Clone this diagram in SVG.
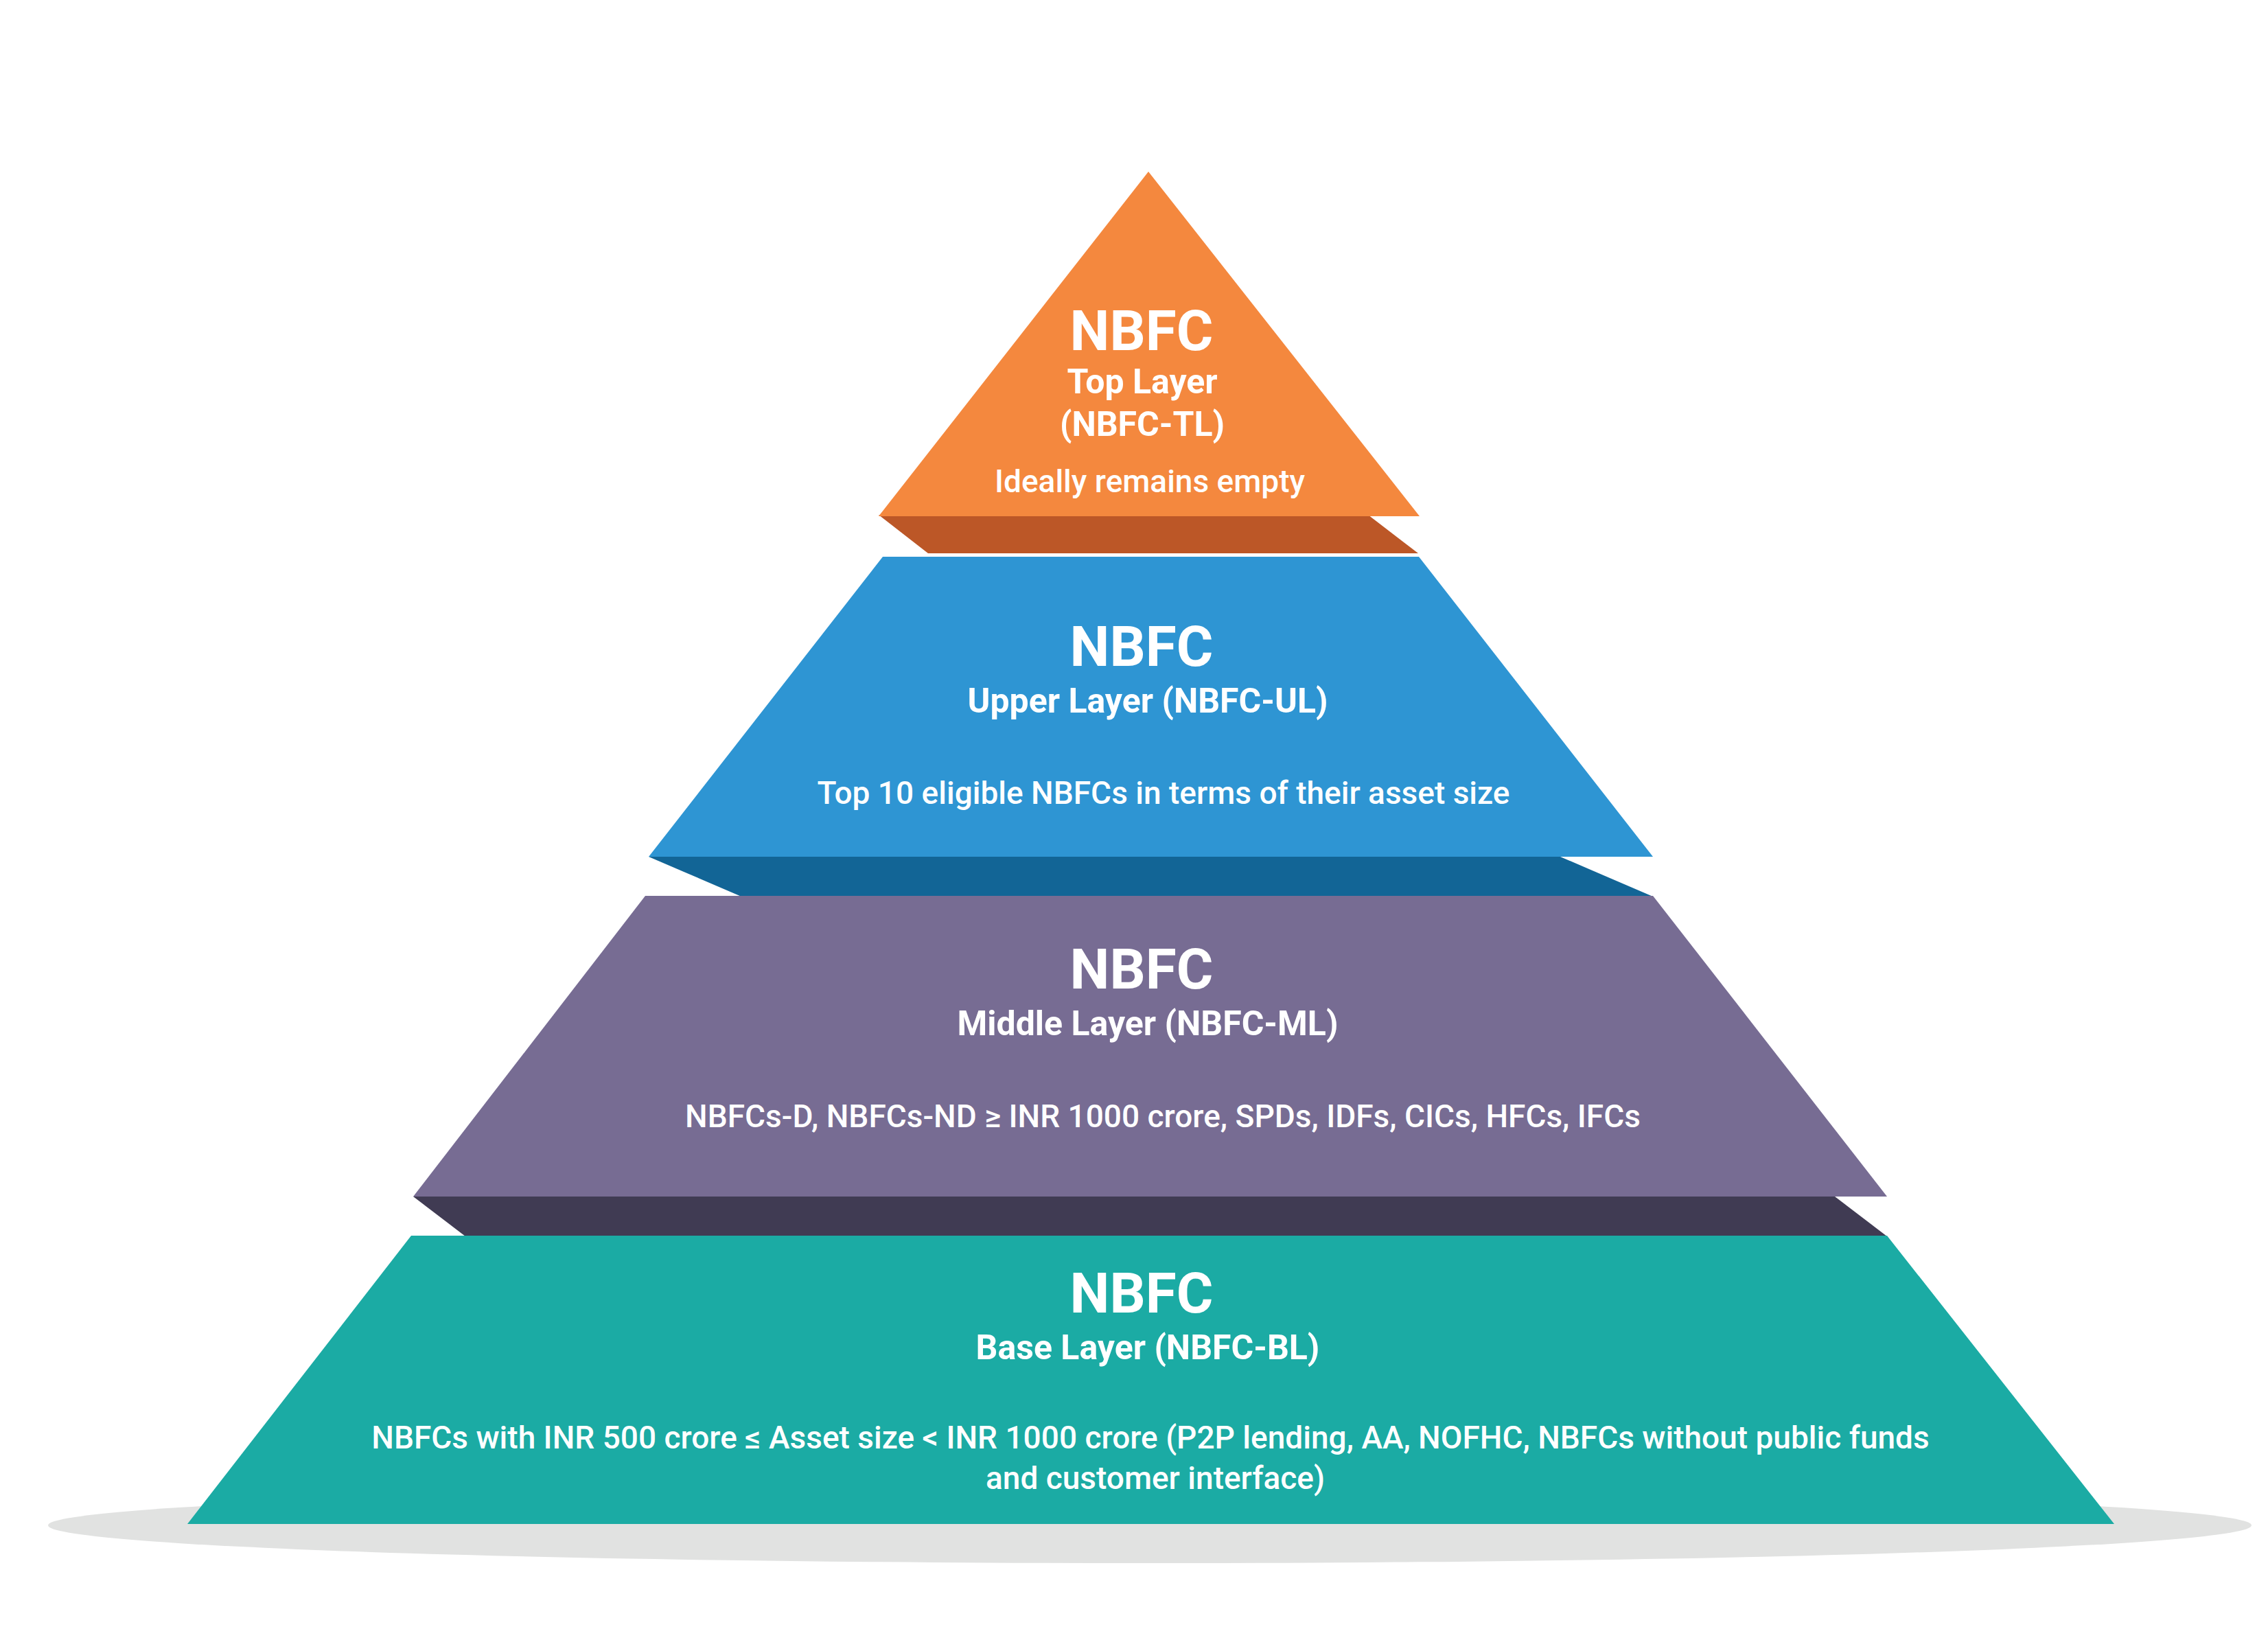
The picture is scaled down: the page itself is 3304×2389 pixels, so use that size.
<svg xmlns="http://www.w3.org/2000/svg" width="3304" height="2389" viewBox="0 0 3304 2389">
<style>
text{font-family:Roboto,"Liberation Sans",sans-serif;fill:#fff;text-anchor:middle}
.h{font-size:82px;font-weight:700}
.s{font-size:50px;font-weight:700}
.d{font-size:46px;font-weight:500}
</style>
<rect width="3304" height="2389" fill="#fff"/>
<ellipse cx="1675" cy="2222" rx="1605" ry="55" fill="#E1E2E1"/>
<g id="shades">
<polygon points="1280,750 1993,750 2066,806 1352,806" fill="#BC5727"/>
<polygon points="945,1248 2273,1248 2408,1306 1080,1306" fill="#126596"/>
<polygon points="602,1743 2673,1743 2749,1801 678,1801" fill="#403B53"/>
</g>
<g id="top">
<polygon points="1673,250 2068,752 1280,752" fill="#F4883E"/>
<text class="h" x="1663" y="510">NBFC</text>
<text class="s" x="1664" y="573">Top Layer</text>
<text class="s" x="1664" y="635">(NBFC-TL)</text>
<text class="d" x="1675" y="717">Ideally remains empty</text>
</g>
<g id="upper">
<polygon points="1286,811 2067,811 2408,1248 945,1248" fill="#2E95D3"/>
<text class="h" x="1663" y="970">NBFC</text>
<text class="s" x="1672" y="1038">Upper Layer (NBFC-UL)</text>
<text class="d" x="1695" y="1171">Top 10 eligible NBFCs in terms of their asset size</text>
</g>
<g id="middle">
<polygon points="940,1305 2408,1305 2749,1743 602,1743" fill="#776C93"/>
<text class="h" x="1663" y="1440">NBFC</text>
<text class="s" x="1672" y="1508">Middle Layer (NBFC-ML)</text>
<text class="d" x="1694" y="1642">NBFCs-D, NBFCs-ND ≥ INR 1000 crore, SPDs, IDFs, CICs, HFCs, IFCs</text>
</g>
<g id="base">
<polygon points="599,1800 2749,1800 3080,2220 273,2220" fill="#1BABA4"/>
<text class="h" x="1663" y="1912">NBFC</text>
<text class="s" x="1672" y="1980">Base Layer (NBFC-BL)</text>
<text class="d" x="1676" y="2110">NBFCs with INR 500 crore ≤ Asset size &lt; INR 1000 crore (P2P lending, AA, NOFHC, NBFCs without public funds</text>
<text class="d" x="1683" y="2169">and customer interface)</text>
</g>
<g id="connectors"/>
</svg>
